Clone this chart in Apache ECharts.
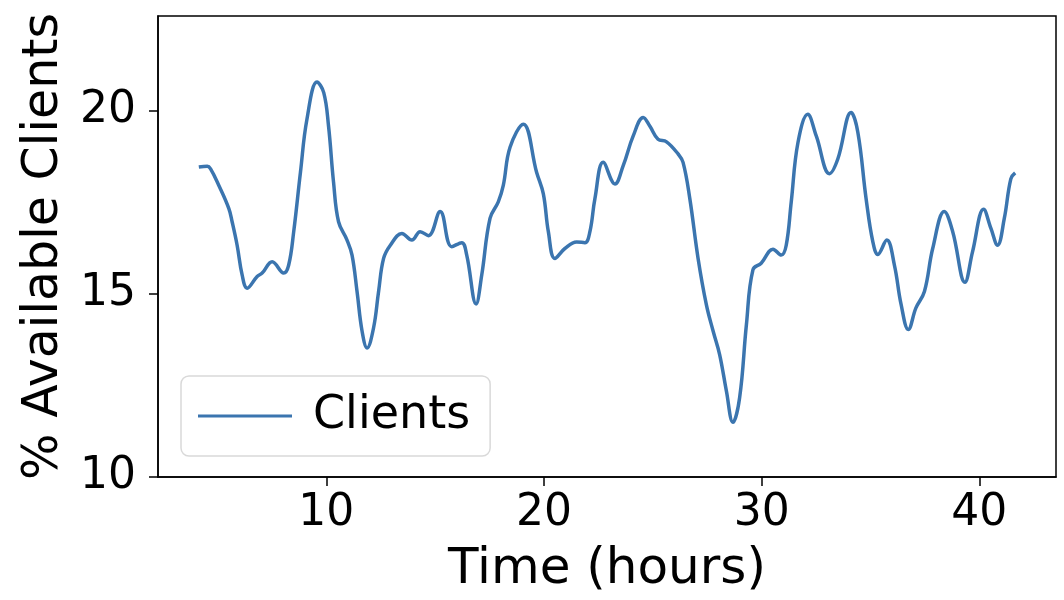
<!DOCTYPE html>
<html>
<head>
<meta charset="utf-8">
<script src="https://cdn.jsdelivr.net/npm/echarts@6/dist/echarts.min.js"></script>
<style>
html,body{margin:0;padding:0;background:#fff;}
#chart{width:1064px;height:600px;}
</style>
</head>
<body>
<div id="chart"></div>
<script>
const seriesName = 'Clients';
const xTitle = 'Time (hours)';
const yTitle = '% Available Clients';
const xTicks = [10, 20, 30, 40];
const yTicks = [10, 15, 20];
const hours = [4.14,4.53,4.68,5.06,5.52,5.67,5.9,6.13,6.36,6.82,7.05,7.51,8.04,8.27,8.5,8.81,9.11,9.57,9.88,10.1,10.33,10.56,10.95,11.18,11.41,11.64,11.87,12.17,12.4,12.63,12.94,13.47,13.93,14.31,14.69,15.23,15.76,16.22,16.45,16.88,17.14,17.52,17.9,18.13,18.44,19.05,19.66,19.97,20.2,20.5,20.96,21.5,21.88,22.11,22.34,22.72,23.26,23.64,24.1,24.56,24.86,25.24,25.63,26.16,26.39,26.7,27.08,27.46,27.77,28.07,28.38,28.68,28.99,29.3,29.6,29.98,30.52,30.9,31.13,31.36,31.67,32.12,32.51,33.12,33.5,34.11,34.42,34.8,35.11,35.34,35.75,36.1,36.41,36.74,37.09,37.48,37.86,38.39,38.78,39.34,39.69,40.2,40.54,40.84,41.15,41.45,41.65];
const clients = [18.45,18.47,18.4,17.95,17.32,16.96,16.32,15.51,15.15,15.47,15.56,15.87,15.56,15.78,16.69,18.31,19.76,20.77,20.48,19.57,18.04,16.96,16.46,16.05,15.06,13.98,13.52,14.07,15.06,15.96,16.32,16.64,16.46,16.69,16.58,17.24,16.28,16.39,16.05,14.72,15.51,17.05,17.5,17.95,18.99,19.62,18.31,17.72,16.69,15.96,16.23,16.41,16.39,16.69,17.59,18.58,17.99,18.49,19.3,19.8,19.57,19.21,19.14,18.81,18.58,17.59,15.96,14.7,13.98,13.34,12.35,11.49,12.17,14.15,15.65,15.83,16.21,16.05,16.32,17.5,19.12,19.89,19.3,18.27,18.67,19.94,19.4,17.59,16.41,16.07,16.46,15.78,14.7,14.02,14.61,15.06,16.23,17.24,16.69,15.31,16.14,17.3,16.77,16.32,17.05,18.13,18.29];

const FONT = 'DejaVu Sans';
const data = hours.map((h, i) => [h, clients[i]]);
const xMin = Math.min(...hours), xMax = Math.max(...hours);
const pad = (xMax - xMin) * 0.05;

const chart = echarts.init(document.getElementById('chart'), null, {renderer: 'canvas'});
chart.setOption({
  animation: false,
  backgroundColor: '#ffffff',
  textStyle: {fontFamily: FONT},
  grid: {left: 158, top: 16, right: 8, bottom: 120, show: true, borderColor: '#000', borderWidth: 1.5, backgroundColor: 'transparent'},
  legend: {
    left: 181, top: 376,
    data: [seriesName],
    icon: 'rect', itemWidth: 94, itemHeight: 3,
    padding: [17, 20, 17, 17],
    backgroundColor: '#fff',
    borderColor: '#d9d9d9', borderWidth: 1.5, borderRadius: 8,
    textStyle: {fontFamily: FONT, fontSize: 46, color: '#000', lineHeight: 46, padding: [0, 0, 0, 16]}
  },
  xAxis: {
    type: 'value', min: xMin - pad, max: xMax + pad,
    name: xTitle, nameLocation: 'middle', nameGap: 68,
    nameTextStyle: {fontFamily: FONT, fontSize: 50, color: '#000'},
    axisLine: {show: true, lineStyle: {color: '#000', width: 1.5}},
    axisTick: {show: true, length: 9, customValues: xTicks, lineStyle: {color: '#000', width: 1.5}},
    axisLabel: {customValues: xTicks, fontFamily: FONT, fontSize: 44, color: '#000', margin: 15},
    splitLine: {show: false}
  },
  yAxis: {
    type: 'value', min: 10, max: 22.57,
    name: yTitle, nameLocation: 'middle', nameGap: 82, nameRotate: 90,
    nameTextStyle: {fontFamily: FONT, fontSize: 49, color: '#000'},
    axisLine: {show: true, lineStyle: {color: '#000', width: 1.5}},
    axisTick: {show: true, length: 9, customValues: yTicks, lineStyle: {color: '#000', width: 1.5}},
    axisLabel: {customValues: yTicks, fontFamily: FONT, fontSize: 44, color: '#000', margin: 22},
    splitLine: {show: false}
  },
  series: [{
    name: seriesName, type: 'line', data: data,
    symbol: 'none', smooth: 0.4,
    color: '#3b75af',
    lineStyle: {color: '#3b75af', width: 3.5}
  }]
});
</script>
</body>
</html>
